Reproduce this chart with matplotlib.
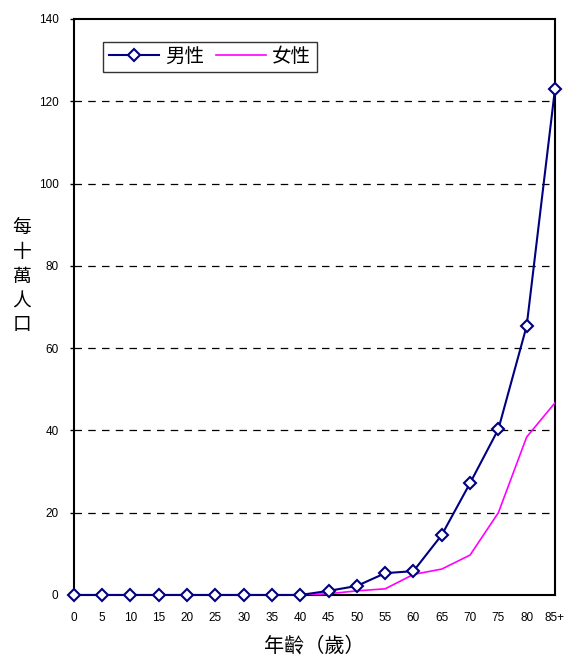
import matplotlib
matplotlib.use("Agg")
import matplotlib.pyplot as plt
import numpy as np

plt.rcParams['font.family'] = ['Liberation Sans', 'Noto Sans CJK TC', 'DejaVu Sans']

AGE_LABELS = ["0", "5", "10", "15", "20", "25", "30", "35", "40", "45",
              "50", "55", "60", "65", "70", "75", "80", "85+"]
MALE = [0, 0, 0, 0, 0, 0, 0, 0, 0, 1.0, 2.2, 5.3, 5.8, 14.6, 27.2, 40.3, 65.4, 123.0]
FEMALE = [0, 0, 0, 0, 0, 0, 0, 0, 0, 0.3, 1.0, 1.5, 5.0, 6.3, 9.7, 20.0, 38.4, 46.7]
Y_TICKS = [0, 20, 40, 60, 80, 100, 120, 140]

fig = plt.figure(figsize=(5.64, 6.57), dpi=100)
ax = fig.add_axes([0.131, 0.0944, 0.853, 0.8767])

x = np.arange(len(AGE_LABELS))
ax.plot(x, MALE, color="#000080", lw=1.5, marker="D", markersize=6.5,
        markerfacecolor="white", markeredgecolor="#000080", markeredgewidth=1.5,
        label="男性", clip_on=False, zorder=4)
ax.plot(x, FEMALE, color="#FF00FF", lw=1.2, label="女性", zorder=3)

ax.set_xlim(0, len(AGE_LABELS) - 1)
ax.set_ylim(0, 140)
ax.set_xticks(x)
ax.set_xticklabels(AGE_LABELS, fontsize=8.5)
ax.set_yticks(Y_TICKS)
ax.set_yticklabels([str(v) for v in Y_TICKS], fontsize=8.5)
ax.tick_params(axis="both", length=3, width=1, pad=8)
ax.tick_params(axis="x", length=0, pad=12)

for v in Y_TICKS[1:-1]:
    ax.axhline(v, color="black", lw=0.9, ls=(0, (6, 5)), zorder=1)

for s in ax.spines.values():
    s.set_linewidth(1.5)

ax.set_xlabel("年齡（歲）", fontsize=14.5, labelpad=9)
fig.text(0.039, 0.578, "每\n十\n萬\n人\n口", fontsize=13.5, ha="center", va="center",
         linespacing=1.55)

leg = ax.legend(loc="upper left", bbox_to_anchor=(0.06, 0.96), ncol=2, fontsize=14,
                frameon=True, fancybox=False, edgecolor="black", handlelength=2.6,
                markerfirst=True, columnspacing=0.6, handletextpad=0.3,
                borderpad=0.3, numpoints=1, borderaxespad=0)
leg.get_frame().set_linewidth(1.0)

plt.savefig("out.png", dpi=100)
